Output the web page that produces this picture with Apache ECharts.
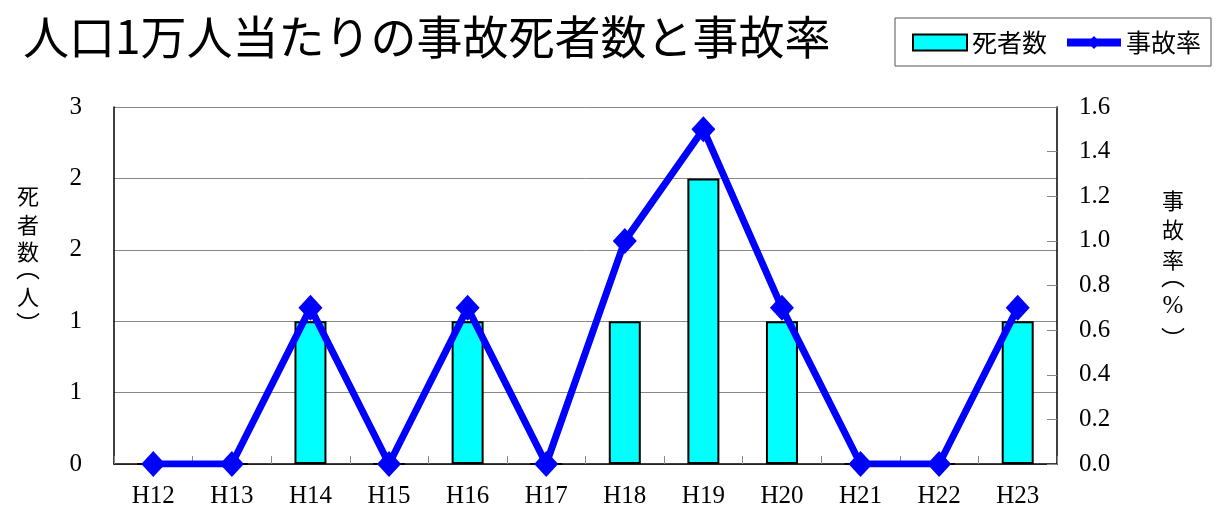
<!DOCTYPE html>
<html><head><meta charset="utf-8">
<script src="https://cdn.jsdelivr.net/npm/echarts@6/dist/echarts.min.js"></script>
<style>html,body{margin:0;padding:0;background:#fff}#c{width:1216px;height:514px}</style>
</head><body><div id="c"></div>
<script>
const categories = ['H12','H13','H14','H15','H16','H17','H18','H19','H20','H21','H22','H23'];
const deaths = [0,0,1,0,1,0,1,2,1,0,0,1];
const rates = [0,0,0.7,0,0.7,0,1.0,1.5,0.7,0,0,0.7];
const leftTickLabels = ['0','1','1','2','2','3'];
const rightTickLabels = ['0.0','0.2','0.4','0.6','0.8','1.0','1.2','1.4','1.6'];

const serif = '"Liberation Serif", "Noto Sans CJK JP", serif';
const jp = '"Noto Sans CJK JP", sans-serif';

function vchar(ch, x, y, font, size) {
  return {type: 'text', x: x, y: y,
    style: {text: ch, fontFamily: font || jp, fontSize: size || 22, fill: '#000', align: 'center', verticalAlign: 'middle'}};
}
const graphics = [
  vchar('死', 28, 196), vchar('者', 28, 225), vchar('数', 28, 252),
  vchar('︵', 28, 268, jp, 24), vchar('人', 28, 297), vchar('︶', 28, 324, jp, 24),
  vchar('事', 1173, 201), vchar('故', 1173, 230), vchar('率', 1173, 260),
  vchar('︵', 1173, 276, jp, 24), vchar('%', 1173, 306, serif, 25), vchar('︶', 1173, 339, jp, 24)
];

const chart = echarts.init(document.getElementById('c'));
chart.setOption({
  animation: false,
  backgroundColor: '#fff',
  title: {
    text: '人口1万人当たりの事故死者数と事故率',
    left: 18, top: 9,
    textStyle: {fontFamily: jp, fontSize: 46, fontWeight: 'normal', color: '#000'}
  },
  legend: {
    left: 895, top: 18,
    padding: [12, 10, 11, 17],
    itemGap: 16,
    itemWidth: 54, itemHeight: 16,
    borderColor: '#555', borderWidth: 1,
    textStyle: {fontFamily: jp, fontSize: 25, color: '#000'},
    data: [
      {name: '死者数', icon: 'rect'},
      {name: '事故率', lineStyle: {width: 8, color: '#0000FF'}}
    ]
  },
  graphic: graphics,
  grid: {left: 114, right: 159, top: 107, bottom: 50},
  xAxis: {
    type: 'category', data: categories, boundaryGap: true,
    axisLine: {lineStyle: {color: '#000', width: 1.5}},
    axisTick: {show: true, inside: true, length: 8, lineStyle: {color: '#888'}},
    axisLabel: {fontFamily: serif, fontSize: 25, color: '#000', margin: 20}
  },
  yAxis: [
    {
      type: 'value', min: 0, max: 2.5, interval: 0.5, position: 'left',
      axisLine: {show: true, lineStyle: {color: '#000', width: 1.5}},
      axisTick: {show: false},
      splitLine: {show: true, lineStyle: {color: '#888', width: 1}},
      axisLabel: {fontFamily: serif, fontSize: 25, color: '#000', margin: 32,
        formatter: (v, i) => leftTickLabels[i]}
    },
    {
      type: 'value', min: 0, max: 1.6, interval: 0.2, position: 'right',
      axisLine: {show: true, lineStyle: {color: '#000', width: 1.5}},
      axisTick: {show: true, inside: true, length: 10, lineStyle: {color: '#888'}},
      splitLine: {show: false},
      axisLabel: {fontFamily: serif, fontSize: 25, color: '#000', margin: 22, align: 'left',
        formatter: (v, i) => rightTickLabels[i]}
    }
  ],
  series: [
    {
      name: '死者数', type: 'bar', data: deaths, yAxisIndex: 0, barWidth: 32,
      itemStyle: {color: '#00FFFF', borderColor: '#000', borderWidth: 2}
    },
    {
      name: '事故率', type: 'line', data: rates, yAxisIndex: 1, z: 5,
      symbol: 'diamond', symbolSize: [24, 26],
      lineStyle: {color: '#0000FF', width: 7},
      itemStyle: {color: '#0000FF'}
    }
  ]
});
</script></body></html>
